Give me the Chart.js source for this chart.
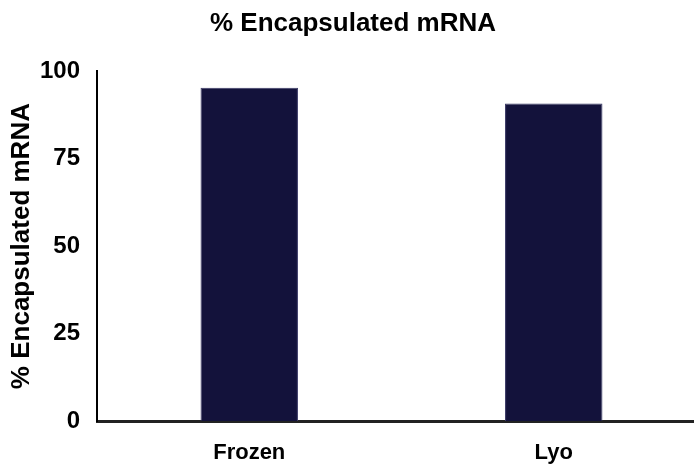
<!DOCTYPE html>
<html>
<head>
<meta charset="utf-8">
<script src="https://cdn.jsdelivr.net/npm/chart.js@4.4.0/dist/chart.umd.min.js"></script>
<style>
  html, body { margin: 0; padding: 0; overflow: hidden; background: #fff; }
  #wrap { width: 706px; height: 466px; position: relative; }
</style>
</head>
<body>
<div id="wrap"><canvas id="myChart"></canvas></div>
<script>
let categories = ['Frozen', 'Lyo'];
let encapsulated = [95.3, 90.8];
let yTicks = [0, 25, 50, 75, 100];

const font = 'Liberation Sans, Arial, sans-serif';
const ctx = document.getElementById('myChart');

new Chart(ctx, {
  type: 'bar',
  data: {
    labels: categories,
    datasets: [{
      label: '% Encapsulated mRNA',
      data: encapsulated,
      backgroundColor: '#13123b',
      borderColor: '#3a3966',
      borderWidth: 1,
      categoryPercentage: 1,
      barPercentage: 0.32
    }]
  },
  options: {
    responsive: true,
    maintainAspectRatio: false,
    animation: false,
    layout: { padding: 0 },
    plugins: {
      legend: { display: false },
      tooltip: { enabled: false },
      title: {
        display: true,
        text: '% Encapsulated mRNA',
        color: '#000',
        font: { family: font, size: 26, weight: 'bold' },
        padding: { top: 8, bottom: 32 }
      }
    },
    scales: {
      x: {
        grid: { display: false, drawTicks: false },
        border: { display: true, color: '#222', width: 3 },
        ticks: {
          color: '#000',
          padding: 19,
          font: { family: font, size: 22, weight: 'bold' }
        },
        afterFit: (s) => { s.height = 45; }
      },
      y: {
        min: 0,
        max: 100,
        grid: { display: false, drawTicks: false },
        border: { display: true, color: '#000', width: 2 },
        afterBuildTicks: (s) => { s.ticks = yTicks.map(v => ({ value: v })); },
        ticks: {
          color: '#000',
          padding: 17,
          font: { family: font, size: 24, weight: 'bold' }
        },
        title: {
          display: true,
          text: '% Encapsulated mRNA',
          color: '#000',
          padding: { top: 6, bottom: 0 },
          font: { family: font, size: 26, weight: 'bold' }
        },
        afterFit: (s) => { s.width = 97; }
      }
    }
  }
});
</script>
</body>
</html>
